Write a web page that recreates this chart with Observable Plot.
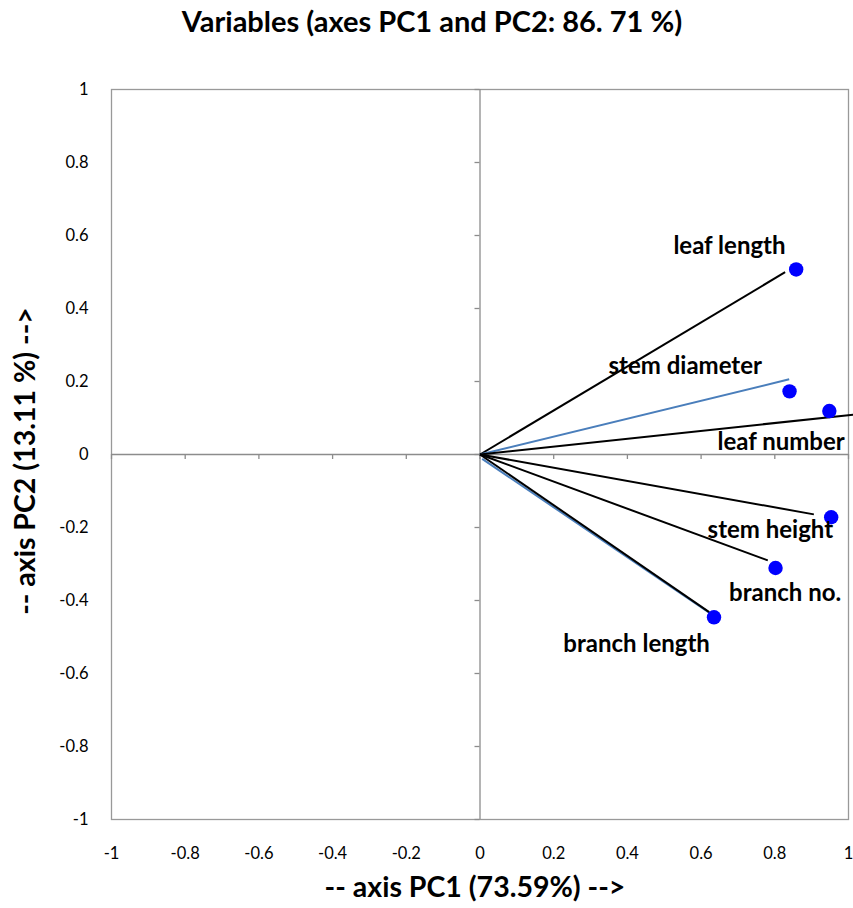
<!DOCTYPE html>
<html>
<head>
<meta charset="utf-8">
<script src="https://cdn.jsdelivr.net/npm/d3@7"></script>
<script src="https://cdn.jsdelivr.net/npm/@observablehq/plot@0.6"></script>
<style>
  html, body { margin: 0; padding: 0; background: #fff; }
  #chart svg { display: block; }
</style>
</head>
<body>
<div id="chart"></div>
<script>
// Variables
const variables = ["leaf length", "stem diameter", "leaf number", "stem height", "branch no.", "branch length"];
// Correlation points (PC1, PC2)
const pointX = [0.858, 0.840, 0.948, 0.953, 0.802, 0.635];
const pointY = [0.507, 0.173, 0.119, -0.172, -0.311, -0.446];
// Vector line end points
const lineX = [0.828, 0.839, 1.02, 0.906, 0.781, 0.622];
const lineY = [0.4995, 0.206, 0.110, -0.164, -0.290, -0.432];
const lineColor = ["black", "blue", "black", "black", "black", "black"];
// Extra blue vector under branch length
const blueExtraX = [0.006, 0.632];
const blueExtraY = [-0.012, -0.440];
// Label anchor points (centre of each label)
const labelX = [0.677, 0.557, 0.817, 0.788, 0.828, 0.425];
const labelY = [0.570, 0.241, 0.034, -0.208, -0.380, -0.519];
// Ticks
const tickValues = [-1, -0.8, -0.6, -0.4, -0.2, 0, 0.2, 0.4, 0.6, 0.8, 1];
// Texts
const titleText = "Variables (axes PC1 and PC2: 86. 71 %)";
const xLabel = "-- axis PC1 (73.59%) -->";
const yLabel = "-- axis PC2 (13.11 %) -->";

const rows = variables.map((v, i) => ({
  name: v, px: pointX[i], py: pointY[i], lx: lineX[i], ly: lineY[i],
  c: lineColor[i], tx: labelX[i], ty: labelY[i]
}));
const blueLink = [{x1: blueExtraX[0], y1: blueExtraY[0], x2: blueExtraX[1], y2: blueExtraY[1]}];
const fmt = d => d === 0 ? "0" : String(d);

const chart = Plot.plot({
  width: 853,
  height: 908,
  marginLeft: 111,
  marginRight: 5,
  marginTop: 89,
  marginBottom: 89,
  style: {fontFamily: "Lato, sans-serif", fontSize: "16.5px", color: "#000", background: "#fff"},
  x: {domain: [-1, 1], ticks: tickValues, tickFormat: fmt, tickSize: 0, tickPadding: 28,
      label: xLabel, labelAnchor: "center", labelOffset: 74},
  y: {domain: [-1, 1], ticks: tickValues, tickFormat: fmt, tickSize: 0, tickPadding: 23,
      label: yLabel, labelAnchor: "center", labelOffset: 92},
  marks: [
    Plot.frame({stroke: "#999", strokeWidth: 1.3}),
    Plot.ruleX([0], {stroke: "#8c8c8c", strokeWidth: 1.3}),
    Plot.ruleY([0], {stroke: "#8c8c8c", strokeWidth: 1.3}),
    Plot.ruleX(tickValues, {x: d => d, y1: 0, y2: 0, insetBottom: -5, stroke: "#8c8c8c", strokeWidth: 1.3}),
    Plot.ruleY(tickValues, {y: d => d, x1: 0, x2: 0, insetLeft: -5, stroke: "#8c8c8c", strokeWidth: 1.3}),
    Plot.link(blueLink, {x1: "x1", y1: "y1", x2: "x2", y2: "y2", stroke: "#4a7ebb", strokeWidth: 2}),
    Plot.link(rows, {x1: 0, y1: 0, x2: "lx", y2: "ly",
      stroke: d => d.c === "blue" ? "#4a7ebb" : "#000", strokeWidth: 2, clip: false}),
    Plot.dot(rows, {x: "px", y: "py", r: 7.2, fill: "#0000ff", stroke: "none"}),
    Plot.text(rows, {x: "tx", y: "ty", text: "name", fontSize: 24, fontWeight: "bold", fill: "#000",
      textAnchor: "middle", lineAnchor: "middle"}),
    Plot.text([titleText], {frameAnchor: "top", text: d => d, dy: -67, dx: -48,
      fontSize: 29, fontWeight: "bold", fill: "#000", lineAnchor: "middle"})
  ]
});

// Restyle and position axis labels (remove auto arrows)
const xl = chart.querySelector("[aria-label='x-axis label']");
if (xl) {
  xl.removeAttribute("transform");
  const t = xl.querySelector("text");
  t.textContent = xLabel;
  t.setAttribute("transform", "translate(475,887)");
  t.removeAttribute("x"); t.removeAttribute("y");
  t.setAttribute("text-anchor", "middle");
  t.setAttribute("dy", "0.35em");
  t.setAttribute("font-size", "28.5");
  t.setAttribute("font-weight", "bold");
  t.setAttribute("fill", "#000");
}
const yl = chart.querySelector("[aria-label='y-axis label']");
if (yl) {
  yl.removeAttribute("transform");
  const t = yl.querySelector("text");
  t.textContent = yLabel;
  t.setAttribute("transform", "translate(25,461) rotate(-90)");
  t.removeAttribute("x"); t.removeAttribute("y");
  t.setAttribute("text-anchor", "middle");
  t.setAttribute("dy", "0.35em");
  t.setAttribute("font-size", "28.5");
  t.setAttribute("font-weight", "bold");
  t.setAttribute("fill", "#000");
}
document.getElementById("chart").appendChild(chart);
</script>
</body>
</html>
